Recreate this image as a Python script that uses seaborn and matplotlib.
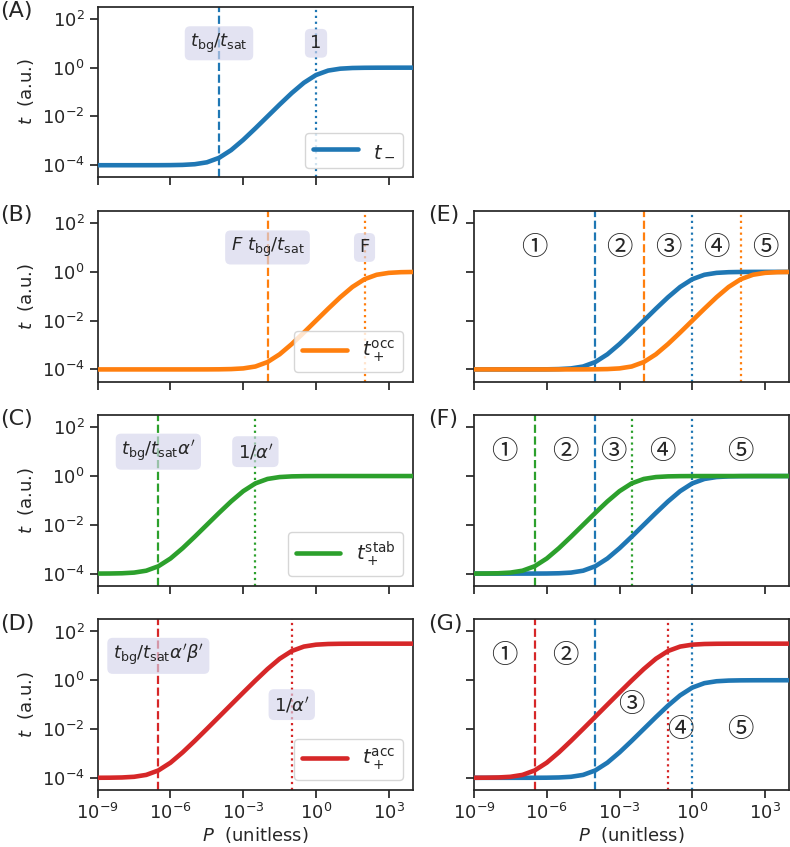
import numpy as np
import matplotlib
matplotlib.use("Agg")
import matplotlib.pyplot as plt
import seaborn as sns
from matplotlib.ticker import NullLocator

# --- Data (half-decade grid in P) ---
LOG_P = [-9, -8.5, -8, -7.5, -7, -6.5, -6, -5.5, -5, -4.5, -4, -3.5, -3, -2.5,
         -2, -1.5, -1, -0.5, 0, 0.5, 1, 1.5, 2, 2.5, 3, 3.5, 4]

T_MINUS = [1.000e-4, 1.000e-4, 1.000e-4, 1.000e-4, 1.001e-4, 1.003e-4, 1.010e-4,
           1.032e-4, 1.100e-4, 1.316e-4, 2.000e-4, 4.162e-4, 1.099e-3, 3.252e-3,
           1.000e-2, 3.075e-2, 9.101e-2, 2.403e-1, 5.001e-1, 7.597e-1, 9.092e-1,
           9.694e-1, 9.902e-1, 9.969e-1, 9.991e-1, 9.998e-1, 1.000]
T_OCC = [1.000e-4, 1.000e-4, 1.000e-4, 1.000e-4, 1.000e-4, 1.000e-4, 1.000e-4,
         1.000e-4, 1.001e-4, 1.003e-4, 1.010e-4, 1.032e-4, 1.100e-4, 1.316e-4,
         2.000e-4, 4.162e-4, 1.099e-3, 3.252e-3, 1.000e-2, 3.075e-2, 9.101e-2,
         2.403e-1, 5.001e-1, 7.597e-1, 9.092e-1, 9.694e-1, 9.902e-1]
T_STAB = [1.003e-4, 1.010e-4, 1.032e-4, 1.100e-4, 1.316e-4, 2.000e-4, 4.162e-4,
          1.099e-3, 3.252e-3, 1.000e-2, 3.075e-2, 9.101e-2, 2.403e-1, 5.001e-1,
          7.597e-1, 9.092e-1, 9.694e-1, 9.902e-1, 9.969e-1, 9.991e-1, 9.998e-1,
          1.000, 1.000, 1.000, 1.000, 1.000, 1.000]
T_ACC = [1.003e-4, 1.010e-4, 1.032e-4, 1.100e-4, 1.316e-4, 2.000e-4, 4.162e-4,
         1.100e-3, 3.260e-3, 1.010e-2, 3.170e-2, 9.980e-2, 3.132e-1, 9.694e-1,
         2.875, 7.597, 15.81, 24.02, 28.75, 30.65, 31.31, 31.52, 31.59, 31.61,
         31.62, 31.62, 31.62]

# vertical marker positions (dashed, dotted) for each curve
MARK_MINUS = [1e-4, 1.0]
MARK_OCC = [1e-2, 1e2]
MARK_STAB = [3.16e-7, 3.16e-3]
MARK_ACC = [3.16e-7, 1e-1]

LABELS_MINUS = [r"$t_{\rm bg}/t_{\rm sat}$", "1"]
LABELS_OCC = [r"$F\ t_{\rm bg}/t_{\rm sat}$", "F"]
LABELS_STAB = [r"$t_{\rm bg}/t_{\rm sat}\alpha'$", r"$1/\alpha'$"]
LABELS_ACC = [r"$t_{\rm bg}/t_{\rm sat}\alpha'\beta'$", r"$1/\alpha'$"]
LABEL_Y_ACC = [10, 0.1]

REGIONS = ["①", "②", "③", "④", "⑤"]
REGION_X_E = [3.16e-7, 1e-3, 1e-1, 1e1, 1e3]
REGION_Y_E = [10, 10, 10, 10, 10]
REGION_X_F = [1.78e-8, 5.62e-6, 5.62e-4, 5.62e-2, 1e2]
REGION_Y_F = [10, 10, 10, 10, 10]
REGION_X_G = [1.78e-8, 5.62e-6, 3.16e-3, 3.16e-1, 1e2]
REGION_Y_G = [10, 10, 0.1, 0.01, 0.01]

BLUE, ORANGE, GREEN, RED = "#1f77b4", "#ff7f0e", "#2ca02c", "#d62728"

sns.set_theme(style="ticks", context="notebook", font_scale=1.1)
plt.rcParams["font.family"] = ["DejaVu Sans", "Noto Sans CJK JP"]
plt.rcParams["mathtext.fontset"] = "dejavusans"

P = 10.0 ** np.array(LOG_P)
BOX = dict(boxstyle="round", fc="#d4d4ec", ec="none", alpha=0.65)


def draw_curve(ax, t, color, label=None):
    sns.lineplot(x=P, y=t, ax=ax, color=color, lw=3.3, label=label,
                 legend=False, zorder=3)


def draw_marks(ax, marks, color):
    ax.axvline(marks[0], color=color, ls="--", lw=1.6, zorder=2)
    ax.axvline(marks[1], color=color, ls=":", lw=1.6, zorder=2)


def draw_labels(ax, marks, labels, ys=(10, 10)):
    for x, lab, y in zip(marks, labels, ys):
        ax.text(x, y, lab, ha="center", va="center", fontsize=13,
                bbox=BOX, zorder=4)


def draw_regions(ax, xs, ys):
    for lab, x, y in zip(REGIONS, xs, ys):
        ax.text(x, y, lab, ha="center", va="center", fontsize=19,
                family=["Noto Sans CJK JP", "DejaVu Sans"], zorder=5)


fig, axes = plt.subplots(4, 2, figsize=(7.9, 8.47), dpi=100,
                         sharex=True, sharey=True)
fig.subplots_adjust(left=0.1237, right=0.9991, top=0.9921, bottom=0.0673,
                    hspace=0.196, wspace=0.1933)

for ax in axes.flat:
    ax.set_xscale("log")
    ax.set_yscale("log")

# left column
left = [
    (T_MINUS, BLUE, r"$t_-$", MARK_MINUS, LABELS_MINUS, (10, 10)),
    (T_OCC, ORANGE, r"$t_+^{\rm occ}$", MARK_OCC, LABELS_OCC, (10, 10)),
    (T_STAB, GREEN, r"$t_+^{\rm stab}$", MARK_STAB, LABELS_STAB, (10, 10)),
    (T_ACC, RED, r"$t_+^{\rm acc}$", MARK_ACC, LABELS_ACC, LABEL_Y_ACC),
]
for ax, (t, c, lab, marks, labels, ys) in zip(axes[:, 0], left):
    draw_curve(ax, t, c, lab)
    draw_marks(ax, marks, c)
    draw_labels(ax, marks, labels, ys)
    ax.legend(loc="lower right", fontsize=14, handlelength=2.3)
    ax.set_ylabel(r"$t$  (a.u.)", fontsize=13)

# right column
axes[0, 1].axis("off")

ax = axes[1, 1]
draw_curve(ax, T_MINUS, BLUE)
draw_curve(ax, T_OCC, ORANGE)
draw_marks(ax, MARK_MINUS, BLUE)
draw_marks(ax, MARK_OCC, ORANGE)
draw_regions(ax, REGION_X_E, REGION_Y_E)

ax = axes[2, 1]
draw_curve(ax, T_MINUS, BLUE)
draw_curve(ax, T_STAB, GREEN)
draw_marks(ax, MARK_MINUS, BLUE)
draw_marks(ax, MARK_STAB, GREEN)
draw_regions(ax, REGION_X_F, REGION_Y_F)

ax = axes[3, 1]
draw_curve(ax, T_MINUS, BLUE)
draw_curve(ax, T_ACC, RED)
draw_marks(ax, MARK_MINUS, BLUE)
draw_marks(ax, MARK_ACC, RED)
draw_regions(ax, REGION_X_G, REGION_Y_G)

for ax in axes.flat:
    ax.set_xlim(1e-9, 1e4)
    ax.set_ylim(10 ** -4.5, 10 ** 2.5)
    ax.set_xticks([1e-9, 1e-6, 1e-3, 1, 1e3])
    ax.set_yticks([1e-4, 1e-2, 1, 1e2])
    ax.xaxis.set_minor_locator(NullLocator())
    ax.yaxis.set_minor_locator(NullLocator())
    ax.tick_params(labelsize=13)

for ax in axes[3, :]:
    ax.set_xlabel(r"$P$  (unitless)", fontsize=13, labelpad=1)

# panel letters
for ax, letter in zip(axes[:, 0], "ABCD"):
    ax.text(-0.31, 0.975, f"({letter})", transform=ax.transAxes,
            ha="left", va="center", fontsize=16)
for ax, letter in zip(axes[1:, 1], "EFG"):
    ax.text(-0.146, 0.975, f"({letter})", transform=ax.transAxes,
            ha="left", va="center", fontsize=16)

fig.savefig("out.png", dpi=100)
